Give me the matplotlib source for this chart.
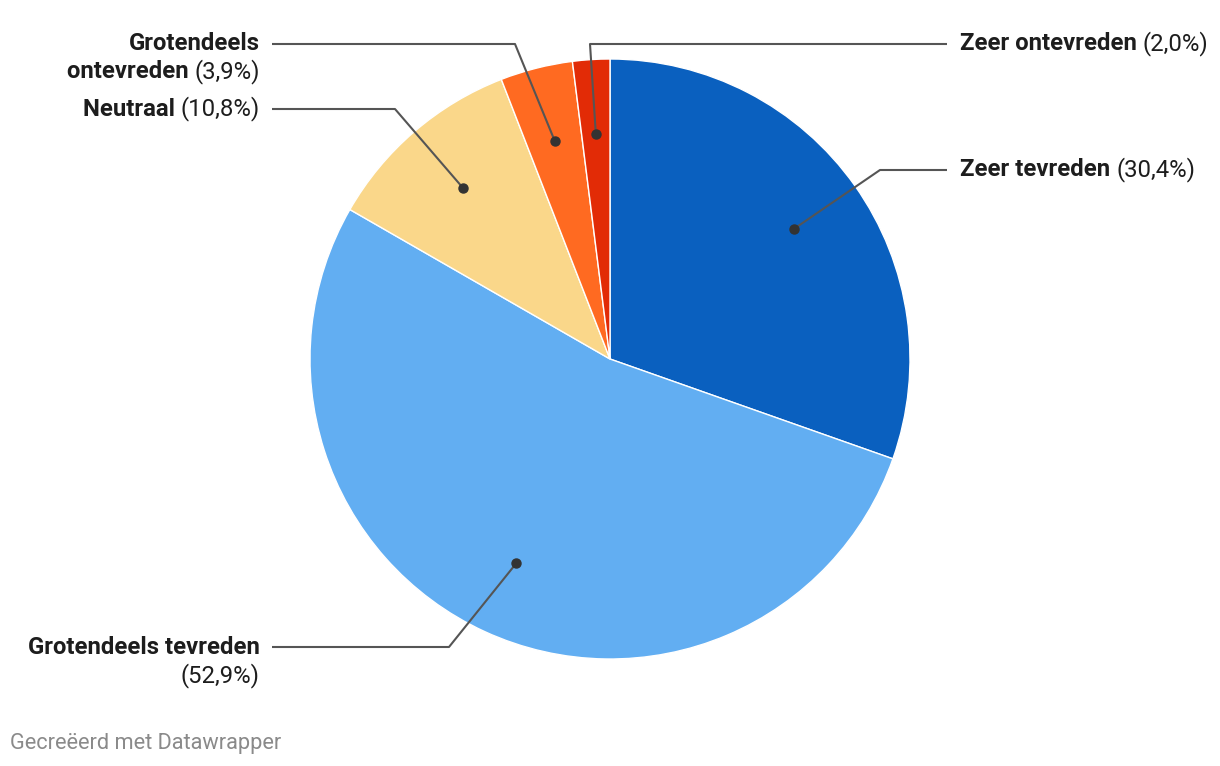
import numpy as np
import matplotlib
matplotlib.use("Agg")
import matplotlib.pyplot as plt

# Data
labels = ["Zeer tevreden", "Grotendeels tevreden", "Neutraal",
          "Grotendeels ontevreden", "Zeer ontevreden"]
values = [30.4, 52.9, 10.8, 3.9, 2.0]
colors = ["#0a60bf", "#62aef2", "#fad78a", "#ff6a21", "#e22b06"]

W, H = 1220, 766
CX, CY, R = 610, H - 359, 300

# label layout (pixel coords from top): elbow point, line end x, text x, side, lines
layout = [
    dict(elbow=(880, 170), end=947, tx=960, side="right", wrap=False),
    dict(elbow=(449, 647), end=272, tx=260, side="left", wrap=True),
    dict(elbow=(395, 109), end=272, tx=260, side="left", wrap=False),
    dict(elbow=(515, 44), end=272, tx=260, side="left", wrap=True),
    dict(elbow=(590, 44), end=947, tx=960, side="right", wrap=False),
]

plt.rcParams['font.family'] = ['Roboto', 'DejaVu Sans']
FS = 17.2

fig = plt.figure(figsize=(W / 100, H / 100), dpi=100)
ax = fig.add_axes([0, 0, 1, 1])
wedges, _ = ax.pie(values, colors=colors, startangle=90, counterclock=False,
                   center=(CX, CY), radius=R,
                   wedgeprops=dict(edgecolor="white", linewidth=1))
ax.set_xlim(0, W)
ax.set_ylim(0, H)
ax.set_aspect("equal")
ax.axis("off")

renderer = fig.canvas.get_renderer()


def text_width(t):
    bb = t.get_window_extent(renderer=renderer)
    return bb.width


for w, name, val, lay in zip(wedges, labels, values, layout):
    mid = np.deg2rad((w.theta1 + w.theta2) / 2)
    dx = CX + 0.75 * R * np.cos(mid)
    dy = CY + 0.75 * R * np.sin(mid)
    ex, ey = lay["elbow"]
    ey = H - ey
    ax.plot([dx, ex, lay["end"]], [dy, ey, ey], color="#555555", lw=1.5,
            solid_capstyle="butt", zorder=3)
    ax.plot(dx, dy, "o", color="#333333", ms=6.5, zorder=4)

    pct = "(" + f"{val:.1f}".replace(".", ",") + "%)"
    tx = lay["tx"]
    if lay["side"] == "right":
        t1 = ax.text(tx, ey, name + " ", fontsize=FS, fontweight="bold",
                     color="#1d1d1d", ha="left", va="center")
        wd = text_width(t1)
        ax.text(tx + wd, ey, pct, fontsize=FS, color="#1d1d1d",
                ha="left", va="center")
    else:
        if lay["wrap"]:
            if name == "Grotendeels tevreden":
                ax.text(tx, ey, name, fontsize=FS, fontweight="bold",
                        color="#1d1d1d", ha="right", va="center")
                ax.text(tx, ey - 29, pct, fontsize=FS, color="#1d1d1d",
                        ha="right", va="center")
            else:
                first, second = name.split(" ")
                ax.text(tx, ey, first, fontsize=FS, fontweight="bold",
                        color="#1d1d1d", ha="right", va="center")
                t2 = ax.text(tx, ey - 28, pct, fontsize=FS, color="#1d1d1d",
                             ha="right", va="center")
                wd = text_width(t2)
                ax.text(tx - wd, ey - 28, second + " ", fontsize=FS,
                        fontweight="bold", color="#1d1d1d", ha="right",
                        va="center")
        else:
            t2 = ax.text(tx, ey, pct, fontsize=FS, color="#1d1d1d",
                         ha="right", va="center")
            wd = text_width(t2)
            ax.text(tx - wd, ey, name + " ", fontsize=FS, fontweight="bold",
                    color="#1d1d1d", ha="right", va="center")

ax.text(10, H - 743, "Gecreëerd met Datawrapper", fontsize=15.7,
        color="#8a8a8a", ha="left", va="center")

fig.savefig("out.png", dpi=100, facecolor="white")
